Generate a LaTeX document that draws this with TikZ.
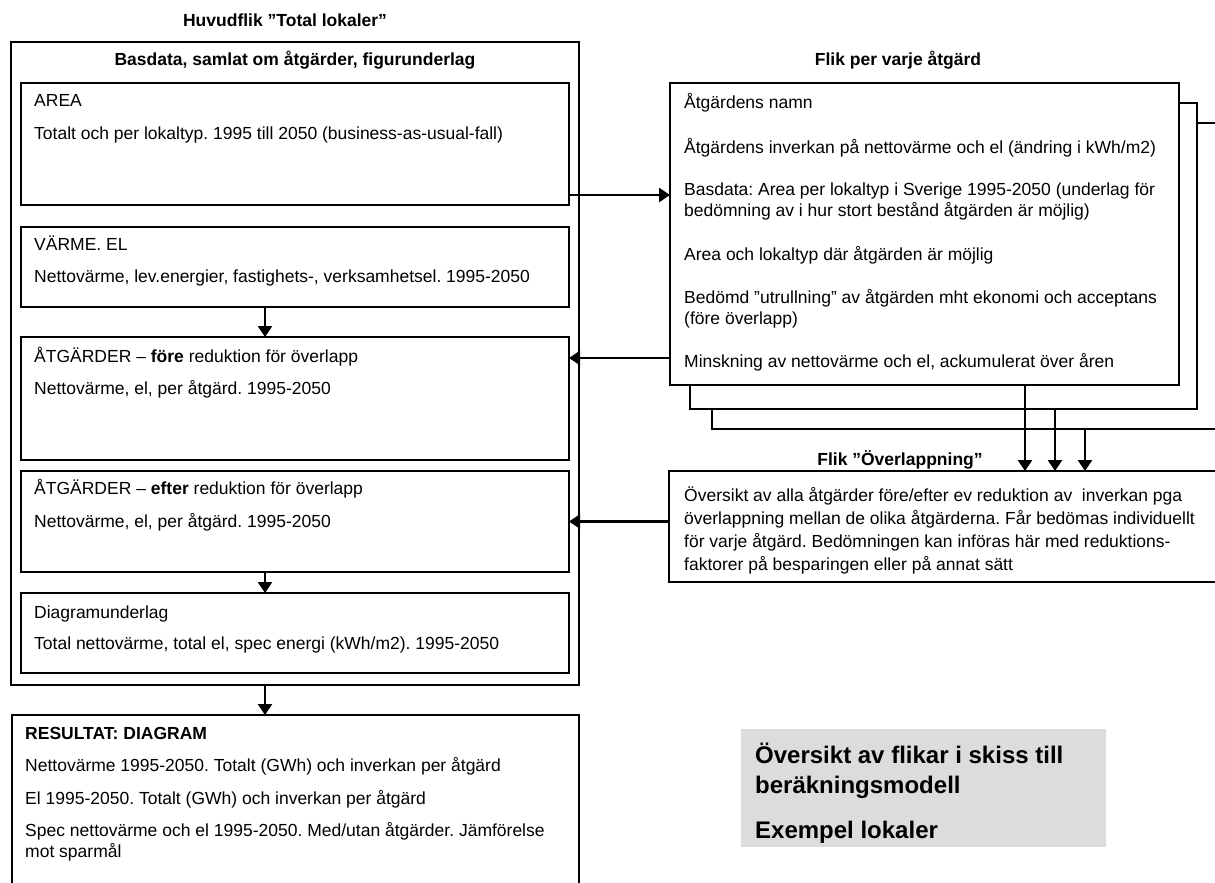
\documentclass[tikz,border=0pt]{standalone}
\usepackage{fontspec}
\setmainfont{Liberation Sans}
\usepackage{tikz}
\usetikzlibrary{arrows.meta,positioning,calc}

\definecolor{panel}{RGB}{220,220,220}

\begin{document}
\frenchspacing
\begin{tikzpicture}[x=1pt, y=-1pt, >={Triangle[length=11pt,width=14pt]},
        mainbox/.style={rectangle, draw, line width=2.6pt, anchor=north west, inner sep=0pt, outer sep=0pt, fill=white},
        subbox/.style={rectangle, draw, line width=1.6pt, anchor=north west, inner sep=0pt, outer sep=0pt, fill=white},
        txt/.style={inner sep=0pt, align=left, anchor=north west, font=\fontsize{17.5}{21}\selectfont},
        hdr/.style={inner sep=0pt, font=\fontsize{17.5}{21}\selectfont\bfseries},
        link/.style={line width=2.8pt}]

        \useasboundingbox (0,0) rectangle (1215,883);
        \clip (0,0) rectangle (1215,883);

        % main tab
        \node [hdr] (title) at (285,20) {Huvudflik ”Total lokaler”};
        \node [mainbox, minimum width=568pt, minimum height=643pt] (main) at (11,42) {};
        \node [hdr] (basis) at (295,60) {Basdata, samlat om åtgärder, figurunderlag};

        \node [subbox, minimum width=548pt, minimum height=122pt] (area) at (21,83) {};
        \node [subbox, minimum width=548pt, minimum height=80pt] (varme) at (21,227) {};
        \node [subbox, minimum width=548pt, minimum height=123pt] (fore) at (21,337) {};
        \node [subbox, minimum width=548pt, minimum height=101pt] (efter) at (21,471) {};
        \node [subbox, minimum width=548pt, minimum height=80pt] (diag) at (21,593) {};
        \node [mainbox, minimum width=567pt, minimum height=200pt] (result) at (12,715) {};

        \node [txt, below right=8.3pt and 13pt of area.north west] (areatxt)
            {\strut AREA\\[12pt]Totalt och per lokaltyp. 1995 till 2050 (business-as-usual-fall)};
        \node [txt, below right=8.3pt and 13pt of varme.north west] (varmetxt)
            {\strut VÄRME. EL\\[11pt]Nettovärme, lev.energier, fastighets-, verksamhetsel. 1995-2050};
        \node [txt, below right=10.3pt and 13pt of fore.north west] (foretxt)
            {\strut ÅTGÄRDER – \textbf{före} reduktion för överlapp\\[11pt]Nettovärme, el, per åtgärd. 1995-2050};
        \node [txt, below right=8.3pt and 13pt of efter.north west] (eftertxt)
            {\strut ÅTGÄRDER – \textbf{efter} reduktion för överlapp\\[12pt]Nettovärme, el, per åtgärd. 1995-2050};
        \node [txt, below right=10.3pt and 13pt of diag.north west] (diagtxt)
            {\strut Diagramunderlag\\[10pt]Total nettovärme, total el, spec energi (kWh/m2). 1995-2050};
        \node [txt, below right=9.3pt and 13pt of result.north west] (resulttxt)
            {\strut\textbf{RESULTAT: DIAGRAM}\\[11pt]Nettovärme 1995-2050. Totalt (GWh) och inverkan per åtgärd\\[12pt]El 1995-2050. Totalt (GWh) och inverkan per åtgärd\\[11pt]Spec nettovärme och el 1995-2050. Med/utan åtgärder. Jämförelse\\mot sparmål};

        % one tab per measure
        \node [hdr] (fliktitle) at (898,60) {Flik per varje åtgärd};
        \node [subbox, minimum width=530pt, minimum height=306pt] (stackc) at (712,123) {};
        \node [subbox, minimum width=507pt, minimum height=306pt] (stackb) at (690,103) {};
        \node [mainbox, minimum width=509pt, minimum height=302pt] (atg) at (670,83) {};
        \node [txt, below right=10.3pt and 14pt of atg.north west] (atgtxt)
            {\strut Åtgärdens namn\\[22pt]Åtgärdens inverkan på nettovärme och el (ändring i kWh/m2)\\[21pt]Basdata: Area per lokaltyp i Sverige 1995-2050 (underlag för\\bedömning av i hur stort bestånd åtgärden är möjlig)\\[23pt]Area och lokaltyp där åtgärden är möjlig\\[22pt]Bedömd ”utrullning” av åtgärden mht ekonomi och acceptans\\(före överlapp)\\[22pt]Minskning av nettovärme och el, ackumulerat över åren};

        % overlap tab
        \node [hdr] (overlaptitle) at (900,460) {Flik ”Överlappning”};
        \node [mainbox, minimum width=560pt, minimum height=111pt] (overlap) at (669,471) {};
        \node [txt, font=\fontsize{17.5}{23}\selectfont, below right=13.9pt and 15pt of overlap.north west] (overlaptxt)
            {\strut Översikt av alla åtgärder före/efter ev reduktion av\ \ inverkan pga\\överlappning mellan de olika åtgärderna. Får bedömas individuellt\\för varje åtgärd. Bedömningen kan införas här med reduktions-\\faktorer på besparingen eller på annat sätt};

        % caption panel
        \node [anchor=north west, fill=panel, inner sep=0pt, minimum width=365pt, minimum height=118pt] (summary) at (741,729) {};
        \node [txt, font=\fontsize{24}{30}\selectfont\bfseries, below right=13.5pt and 14pt of summary.north west] (sumtxt)
            {\strut Översikt av flikar i skiss till\\beräkningsmodell\\[15pt]Exempel lokaler};

        % connectors
        \coordinate (spine) at (265,0);
        \draw [link, ->] (varme.south -| spine) -- (fore.north -| spine);
        \draw [link, ->] (efter.south -| spine) -- (diag.north -| spine);
        \draw [link, ->] (main.south -| spine) -- (result.north -| spine);

        \coordinate (areaout) at ([yshift=10pt]area.south east);
        \draw [link, ->] (areaout) -- (areaout -| atg.west);
        \coordinate (forein) at ([yshift=-21pt]fore.north east);
        \draw [link, ->] (forein -| atg.west) -- (forein);
        \draw [link, ->] (efter.east -| overlap.west) -- (efter.east);

        \foreach \src/\xx in {atg/1025,stackb/1055,stackc/1085} {
            \coordinate (drop) at (\xx,0);
            \draw [link, ->] (\src.south -| drop) -- (overlap.north -| drop);
        }
    \end{tikzpicture}
\end{document}
